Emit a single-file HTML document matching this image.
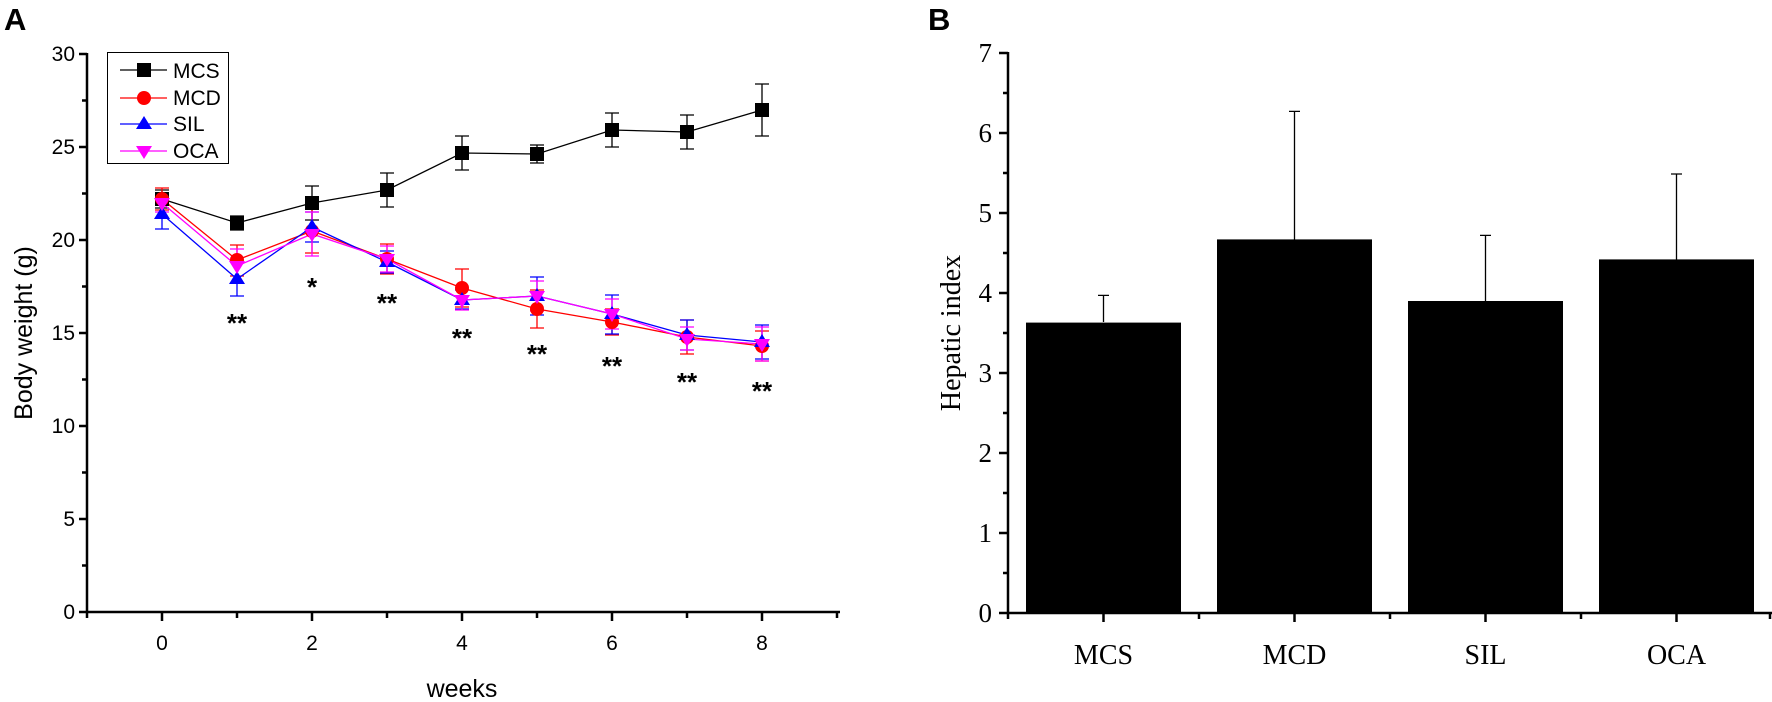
<!DOCTYPE html>
<html><head><meta charset="utf-8"><style>
html,body{margin:0;padding:0;background:#fff;}
svg{display:block;}
.a{font-family:"Liberation Sans",Arial,sans-serif;}
.t{font-family:"Liberation Serif","Times New Roman",serif;}
</style></head><body>
<svg width="1772" height="702" viewBox="0 0 1772 702" xmlns="http://www.w3.org/2000/svg">
<rect width="1772" height="702" fill="#fff"/>
<text x="4" y="30" class="a" font-size="31" font-weight="bold">A</text>
<text x="928" y="30" class="a" font-size="31" font-weight="bold">B</text>

<!-- LEFT AXES -->
<g stroke="#000" stroke-width="2.5" fill="none">
<line x1="87" y1="53" x2="87" y2="613"/>
<line x1="86" y1="612" x2="840" y2="612"/>
<path d="M79 612H87M79 519H87M79 426H87M79 333H87M79 240H87M79 147H87M79 54H87"/>
<path d="M82 565.5H87M82 472.5H87M82 379.5H87M82 286.5H87M82 193.5H87M82 100.5H87"/>
<path d="M162 612V621M312 612V621M462 612V621M612 612V621M762 612V621"/>
<path d="M87 612V618M237 612V618M387 612V618M537 612V618M687 612V618M837 612V618"/>
</g>
<g class="a" font-size="21" text-anchor="end">
<text x="75" y="619">0</text><text x="75" y="526">5</text><text x="75" y="433">10</text>
<text x="75" y="340">15</text><text x="75" y="247">20</text><text x="75" y="154">25</text><text x="75" y="61">30</text>
</g>
<g class="a" font-size="21" text-anchor="middle">
<text x="162" y="650">0</text><text x="312" y="650">2</text><text x="462" y="650">4</text><text x="612" y="650">6</text><text x="762" y="650">8</text>
</g>
<text x="462" y="697" class="a" font-size="25" text-anchor="middle">weeks</text>
<text transform="translate(32,333) rotate(-90)" class="a" font-size="25" text-anchor="middle">Body weight (g)</text>

<!-- error bars -->
<g stroke="#000" stroke-width="1.3" fill="none">
<path d="M162 190V208M155 190H169M155 208H169 M237 216V230M230 216H244M230 230H244 M312 186V220M305 186H319M305 220H319 M387 173V207M380 173H394M380 207H394 M462 136V170M455 136H469M455 170H469 M537 145V163M530 145H544M530 163H544 M612 113V147M605 113H619M605 147H619 M687 115V149M680 115H694M680 149H694 M762 84V136M755 84H769M755 136H769"/>
</g>
<g stroke="#ff0000" stroke-width="1.3" fill="none">
<path d="M162 188V210M155 188H169M155 210H169 M237 245V276M230 245H244M230 276H244 M312 209V253M305 209H319M305 253H319 M387 244V274M380 244H394M380 274H394 M462 269V307M455 269H469M455 307H469 M537 290V328M530 290H544M530 328H544 M612 309V335M605 309H619M605 335H619 M687 320V354M680 320H694M680 354H694 M762 331V361M755 331H769M755 361H769"/>
</g>
<g stroke="#0000ff" stroke-width="1.3" fill="none">
<path d="M162 199V229M155 199H169M155 229H169 M237 262V296M230 262H244M230 296H244 M312 212V242M305 212H319M305 242H319 M387 251V273M380 251H394M380 273H394 M462 290V309M455 290H469M455 309H469 M537 277V315M530 277H544M530 315H544 M612 295V334M605 295H619M605 334H619 M687 320V350M680 320H694M680 350H694 M762 325V359M755 325H769M755 359H769"/>
</g>
<g stroke="#ff00ff" stroke-width="1.3" fill="none">
<path d="M162 194V212M155 194H169M155 212H169 M237 249V283M230 249H244M230 283H244 M312 212V256M305 212H319M305 256H319 M387 246V272M380 246H394M380 272H394 M462 288V310M455 288H469M455 310H469 M537 281V311M530 281H544M530 311H544 M612 299V329M605 299H619M605 329H619 M687 327V350M680 327H694M680 350H694 M762 327V361M755 327H769M755 361H769"/>
</g>

<!-- lines -->
<polyline fill="none" stroke="#000" stroke-width="1.3" points="162,199 237,223 312,203 387,190 462,153 537,154 612,130 687,132 762,110"/>
<polyline fill="none" stroke="#ff0000" stroke-width="1.3" points="162,199 237,260 312,231 387,259 462,288 537,309 612,322 687,337 762,346"/>
<polyline fill="none" stroke="#0000ff" stroke-width="1.3" points="162,214 237,279 312,227 387,262 462,300 537,296 612,314 687,335 762,342"/>
<polyline fill="none" stroke="#ff00ff" stroke-width="1.3" points="162,203 237,266 312,234 387,259 462,300 537,296 612,314 687,339 762,344"/>

<!-- markers -->
<g fill="#000">
<rect x="155" y="192" width="14" height="14"/><rect x="230" y="216" width="14" height="14"/><rect x="305" y="196" width="14" height="14"/>
<rect x="380" y="183" width="14" height="14"/><rect x="455" y="146" width="14" height="14"/><rect x="530" y="147" width="14" height="14"/>
<rect x="605" y="123" width="14" height="14"/><rect x="680" y="125" width="14" height="14"/><rect x="755" y="103" width="14" height="14"/>
</g>
<g fill="#ff0000">
<circle cx="162" cy="199" r="7"/><circle cx="237" cy="260" r="7"/><circle cx="312" cy="231" r="7"/><circle cx="387" cy="259" r="7"/>
<circle cx="462" cy="288" r="7"/><circle cx="537" cy="309" r="7"/><circle cx="612" cy="322" r="7"/><circle cx="687" cy="337" r="7"/><circle cx="762" cy="346" r="7"/>
</g>
<g fill="#0000ff">
<path d="M162 206l8 13h-16z M237 271l8 13h-16z M312 219l8 13h-16z M387 254l8 13h-16z M462 292l8 13h-16z M537 288l8 13h-16z M612 306l8 13h-16z M687 327l8 13h-16z M762 334l8 13h-16z"/>
</g>
<g fill="#ff00ff">
<path d="M162 211l8 -13h-16z M237 274l8 -13h-16z M312 242l8 -13h-16z M387 267l8 -13h-16z M462 308l8 -13h-16z M537 304l8 -13h-16z M612 322l8 -13h-16z M687 347l8 -13h-16z M762 352l8 -13h-16z"/>
</g>

<!-- asterisks -->
<g class="a" font-size="26" font-weight="bold" text-anchor="middle">
<text x="237" y="332">**</text><text x="312" y="296">*</text><text x="387" y="312">**</text>
<text x="462" y="347">**</text><text x="537" y="363">**</text><text x="612" y="375">**</text>
<text x="687" y="391">**</text><text x="762" y="400">**</text>
</g>

<!-- legend -->
<rect x="107.5" y="52.5" width="121" height="111" fill="#fff" stroke="#000" stroke-width="1"/>
<g stroke-width="1.3">
<line x1="120" y1="70" x2="167" y2="70" stroke="#000"/>
<line x1="120" y1="98" x2="167" y2="98" stroke="#ff0000"/>
<line x1="120" y1="124" x2="167" y2="124" stroke="#0000ff"/>
<line x1="120" y1="151" x2="167" y2="151" stroke="#ff00ff"/>
</g>
<rect x="137" y="63" width="14" height="14" fill="#000"/>
<circle cx="144" cy="98" r="7" fill="#ff0000"/>
<path d="M144 116l8 13h-16z" fill="#0000ff"/>
<path d="M144 159l8 -13h-16z" fill="#ff00ff"/>
<g class="a" font-size="21">
<text x="173" y="78">MCS</text><text x="173" y="105">MCD</text><text x="173" y="131">SIL</text><text x="173" y="158">OCA</text>
</g>

<!-- RIGHT CHART -->
<g fill="#000">
<rect x="1026" y="322.6" width="155" height="290.4"/>
<rect x="1217" y="239.4" width="155" height="373.6"/>
<rect x="1408" y="301" width="155" height="312"/>
<rect x="1599" y="259.4" width="155" height="353.6"/>
</g>
<g stroke="#000" stroke-width="1.3" fill="none">
<path d="M1103.5 322V295.4M1098 295.4H1109"/>
<path d="M1294.5 240V111.4M1289 111.4H1300"/>
<path d="M1485.5 301V235.4M1480 235.4H1491"/>
<path d="M1676.5 260V174M1671 174H1682"/>
</g>
<g stroke="#000" stroke-width="2.5" fill="none">
<line x1="1008" y1="52" x2="1008" y2="614"/>
<line x1="1007" y1="613" x2="1772" y2="613"/>
<path d="M999 613H1008M999 533H1008M999 453H1008M999 373H1008M999 293H1008M999 213H1008M999 133H1008M999 53H1008"/>
<path d="M1003 573H1008M1003 493H1008M1003 413H1008M1003 333H1008M1003 253H1008M1003 173H1008M1003 93H1008"/>
<path d="M1103.5 613V622M1294.5 613V622M1485.5 613V622M1676.5 613V622"/>
<path d="M1008 613V619M1199 613V619M1390 613V619M1581 613V619M1770 613V619"/>
</g>
<g class="t" font-size="27" text-anchor="end">
<text x="992" y="622">0</text><text x="992" y="542">1</text><text x="992" y="462">2</text><text x="992" y="382">3</text>
<text x="992" y="302">4</text><text x="992" y="222">5</text><text x="992" y="142">6</text><text x="992" y="62">7</text>
</g>
<g class="t" font-size="28" text-anchor="middle">
<text x="1103.5" y="664">MCS</text><text x="1294.5" y="664">MCD</text><text x="1485.5" y="664">SIL</text><text x="1676.5" y="664">OCA</text>
</g>
<text transform="translate(960,333) rotate(-90)" class="t" font-size="28" text-anchor="middle">Hepatic index</text>
</svg>
</body></html>
